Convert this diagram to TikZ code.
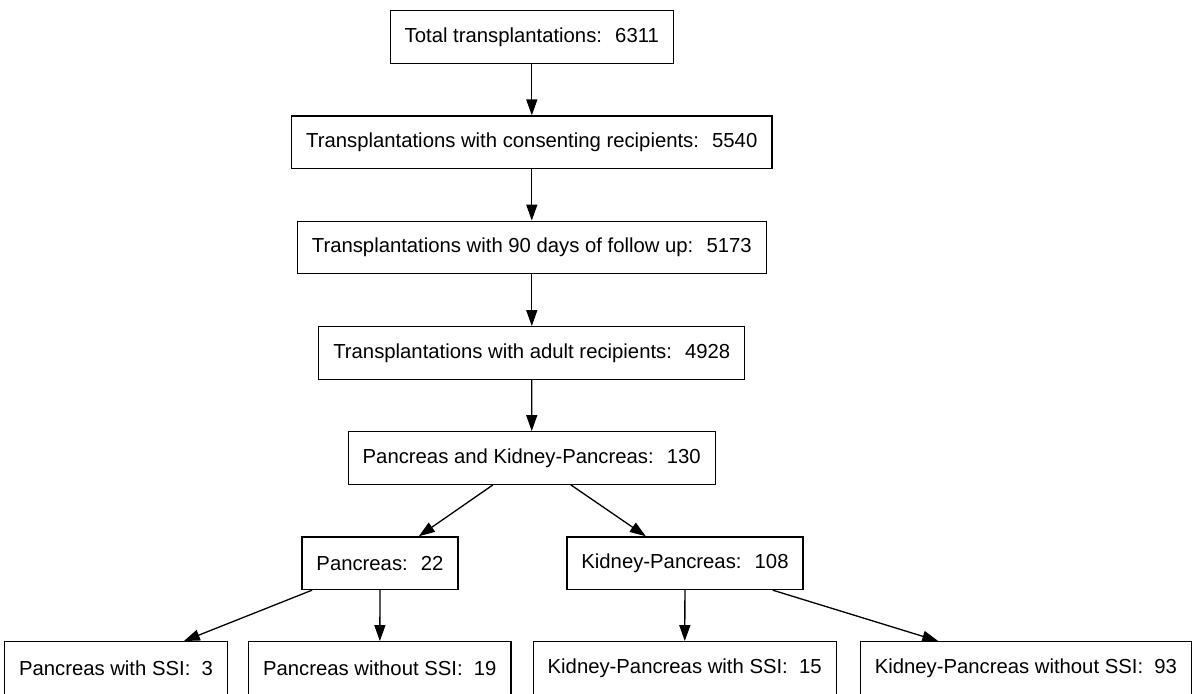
\documentclass[tikz,border=0pt]{standalone}
\usepackage{fontspec}
\setmainfont{Liberation Sans}
\usetikzlibrary{arrows.meta}

\begin{document}
\begin{tikzpicture}[x=0.69pt, y=0.69pt,
    box/.style={draw, line width=0.9pt, minimum height=36.3pt, inner xsep=10pt,
      font=\fontsize{14}{17}\selectfont},
    arr/.style={-{Triangle[length=11pt, width=7.6pt]}, line width=0.9pt}]
    \clip (0, 0) rectangle (1192, 693);
    \node[box] (total) at (531.8, 656) {Total transplantations:~ 6311};
    \node[box] (consent) at (531.8, 550.7) {Transplantations with consenting recipients:~ 5540};
    \node[box] (follow) at (531.8, 445.5) {Transplantations with 90 days of follow up:~ 5173};
    \node[box] (adult) at (531.8, 340) {Transplantations with adult recipients:~ 4928};
    \node[box] (pkp) at (531.7, 235) {Pancreas and Kidney-Pancreas:~ 130};
    \node[box] (panc) at (380, 129.8) {Pancreas:~ 22};
    \node[box] (kp) at (685, 129.8) {Kidney-Pancreas:~ 108};
    \node[box] (pssi) at (116, 25) {Pancreas with SSI:~ 3};
    \node[box] (pnossi) at (379.8, 25) {Pancreas without SSI:~ 19};
    \node[box] (kpssi) at (684.7, 25) {Kidney-Pancreas with SSI:~ 15};
    \node[box] (kpnossi) at (1025.9, 25) {Kidney-Pancreas without SSI:~ 93};
    \draw[arr] (total) -- (consent);
    \draw[arr] (consent) -- (follow);
    \draw[arr] (follow) -- (adult);
    \draw[arr] (adult) -- (pkp);
    \draw[arr] (pkp) -- (panc);
    \draw[arr] (pkp) -- (kp);
    \draw[arr] (panc) -- (pssi);
    \draw[arr] (panc) -- (pnossi);
    \draw[arr] (kp) -- (kpssi);
    \draw[arr] (kp) -- (kpnossi);
\end{tikzpicture}
\end{document}
